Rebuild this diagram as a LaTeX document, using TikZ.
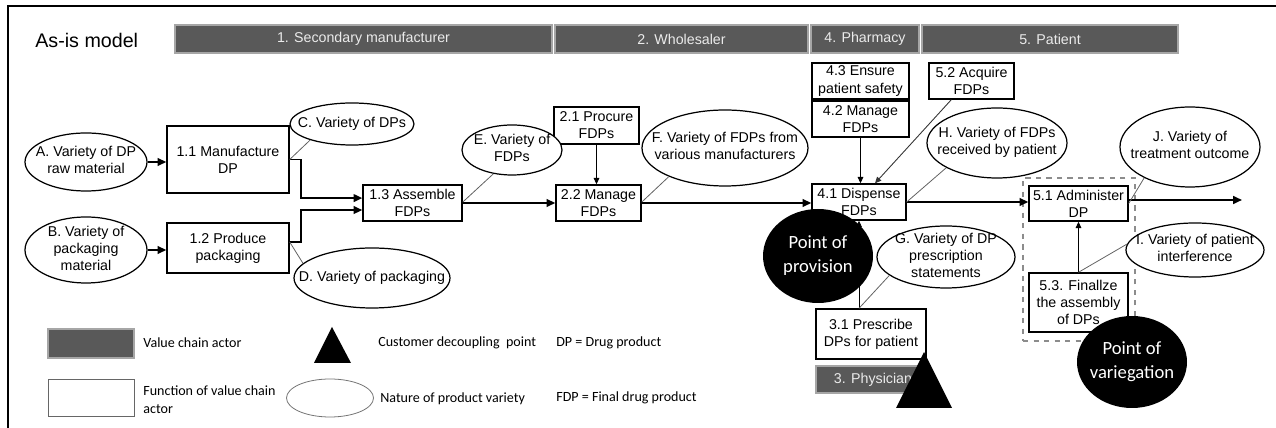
\documentclass[tikz,border=0pt]{standalone}
\usepackage{fontspec}
\setmainfont{Liberation Sans}
\newfontfamily\legendfont{Carlito}
\usetikzlibrary{shapes.geometric,arrows.meta,calc}
\newdimen\px \px=0.02cm
\newcommand\fs{\fontsize{8.1}{9.7}\selectfont}
% centred lines that leave the ellipse size to minimum width/height
\newcommand\ctext[1]{\makebox[0pt]{\smash{\raisebox{-0.24em}{\begin{tabular}{@{}c@{}}#1\end{tabular}}}}}

\begin{document}
\begin{tikzpicture}[x=0.02cm,y=-0.02cm,
  sz/.style 2 args={minimum width=#1*\px, minimum height=#2*\px},
  fn/.style={draw, line width=0.8pt, fill=white, align=center, inner sep=0pt, font=\fs},
  actor/.style={draw=black!35, line width=0.6pt, fill=black!65, text=white!92!black,
                inner sep=0pt, font=\fs},
  var/.style={ellipse, draw, line width=0.7pt, fill=white, inner sep=0pt, font=\fs},
  point/.style={ellipse, fill=black, text=white, inner sep=0pt,
                font=\legendfont\fontsize{10.6}{13.4}\selectfont},
  flow/.style={line width=1.1pt, -{Triangle[length=5pt,width=4.4pt]}},
  feed/.style={line width=0.5pt, -{Triangle[length=3.6pt,width=3.2pt]}},
  note/.style={line width=0.45pt, draw=black!62},
  legend/.style={anchor=west, inner sep=0pt, font=\legendfont\fontsize{8}{10}\selectfont, align=left},
]
\useasboundingbox (0,0) rectangle (1276,428);

% frame
\draw[line width=1.4pt] (8,428) -- (8,6) -- (1276,6);

% title and value chain actors
\node[anchor=west, inner sep=0pt, font=\fontsize{11.2}{13}\selectfont] (title) at (35,40) {As-is model};
\node[actor, sz={377}{28}] (h1) at (363.5,39) {1. Secondary manufacturer};
\node[actor, sz={253}{28}] (h2) at (681.5,39) {2. Wholesaler};
\node[actor, sz={108}{28}] (h4) at (865,39) {4. Pharmacy};
\node[actor, sz={256}{28}] (h5) at (1050,39) {5. Patient};

% grouping of the patient's own assembly
\node[draw=black!45, dashed, line width=0.7pt, sz={112}{163}] (grp) at (1079,259.5) {};

% functions
\node[fn, sz={122}{67}] (b11) at (228,159.5) {1.1 Manufacture\\DP};
\node[fn, sz={122}{50}] (b12) at (228,248) {1.2 Produce\\packaging};
\node[fn, sz={99}{36}]  (b13) at (412.5,203) {1.3 Assemble\\FDPs};
\node[fn, sz={85}{37}]  (b21) at (596.5,125.5) {2.1 Procure\\FDPs};
\node[fn, sz={85}{36}]  (b22) at (598.5,203) {2.2 Manage\\FDPs};
\node[fn, sz={97}{36}]  (b43) at (860.5,81) {4.3 Ensure\\patient safety};
\node[fn, sz={97}{36}]  (b42) at (860.5,119) {4.2 Manage\\FDPs};
\node[fn, sz={94}{36}]  (b41) at (859,202) {4.1 Dispense\\FDPs};
\node[fn, sz={85}{36}]  (b52) at (971.5,81) {5.2 Acquire\\FDPs};
\node[fn, sz={99}{35}]  (b51) at (1078.5,203.5) {5.1 Administer\\DP};
\node[fn, sz={99}{59}]  (b53) at (1078.5,302.5) {5.3. Finallze\\the assembly\\of DPs};
\node[fn, sz={110}{50}] (b31) at (871,334) {3.1 Prescribe\\DPs for patient};

% nature of product variety
\node[var, sz={122}{58}]  (eA) at (86,162) {\ctext{A. Variety of DP\\raw material}};
\node[var, sz={122}{66}]  (eB) at (86,250) {\ctext{B. Variety of\\packaging\\material}};
\node[var, sz={124}{42}]  (eC) at (352,124) {\ctext{C. Variety of DPs}};
\node[var, sz={156}{60}]  (eD) at (372,278) {\ctext{D. Variety of packaging}};
\node[var, sz={100}{50}]  (eE) at (512,150) {\ctext{E. Variety of\\FDPs}};
\node[var, sz={166}{76}]  (eF) at (725,148) {\ctext{F. Variety of FDPs from\\various manufacturers}};
\node[var, sz={140}{70}]  (eH) at (997,143) {\ctext{H. Variety of FDPs\\received by patient}};
\node[var, sz={140}{80}]  (eJ) at (1190,147) {\ctext{J. Variety of\\treatment outcome}};
\node[var, sz={138}{62}]  (eG) at (946,257) {\ctext{G. Variety of DP\\prescription\\statements}};
\node[var, sz={138}{54}]  (eI) at (1195,250) {\ctext{I. Variety of patient\\interference}};

% material and product flow
\draw[flow] (eA.east) -- (eA.east -| b11.west);
\draw[flow] (eB.east) -- (eB.east -| b12.west);
\draw[flow] (b11.east) -- ++(11,0) |- ([yshift=2.8pt]b13.west);
\draw[flow] ([yshift=3.4pt]b12.east) -- ++(11,0) |- ([yshift=-4pt]b13.west);
\draw[flow] (b13.east) -- (b22.west);
\draw[flow] (b22.east) -- (b22.east -| b41.west);
\draw[flow] (b41.east) -- (b41.east -| b51.west);
\coordinate (out) at (1242,200);
\draw[flow] (b51.east |- out) -- (out);

% supporting functions
\draw[feed] (b21.south) -- (b21.south |- b22.north);
\draw[feed] (b42.south) -- (b42.south |- b41.north);
\draw[feed, draw=black!80] ([xshift=23*\px]b52.south west) -- ([xshift=16*\px]b41.north);
\draw[feed] (b53.north) -- (b51.south);
\draw[feed] (b41.south |- b31.north) -- (b41.south);

% variety annotations
\draw[note] (b11.east) -- (eC.201);
\draw[note] ([yshift=3.4pt]b12.east) -- (eD.168);
\draw[note] ([yshift=0.5pt]b13.east) -- (eE.232);
\draw[note] ([yshift=0.5pt]b22.east) -- (eF.207);
\draw[note] (b41.east) -- (eH.206);
\draw[note] (b41.south |- b31.north) -- (eG.198);
\draw[note] (b51.east) -- (eJ.214);
\draw[note] (b53.north) -- (eI.175);

% physician, decoupling point and the two points
\node[actor, sz={114}{27}] (h3) at (873,379.5) {3. Physician};
\fill (924,352) -- (952,408) -- (896,408) -- cycle;
\node[point, sz={110}{94}] (pp) at (818,256) {\ctext{Point of\\provision}};
\node[point, sz={110}{92}] (pv) at (1132,362) {\ctext{Point of\\variegation}};

% legend
\node[actor, sz={86}{29}] (lgA) at (91,343.5) {};
\node[legend] (lgAt) at (143,343) {Value chain actor};
\node[draw=black!60, line width=0.5pt, fill=white, sz={86}{37}] (lgF) at (91,397.5) {};
\node[legend] (lgFt) at (143,399.5) {Function of value chain\\actor};
\fill (332,327) -- (351,363) -- (314,363) -- cycle;
\node[legend] (lgTt) at (378,343) {Customer decoupling\ \ point};
\node[ellipse, draw=black!55, line width=0.45pt, sz={87}{38}] (lgE) at (330,398) {};
\node[legend] (lgEt) at (380,399) {Nature of product variety};
\node[legend] (lgDP) at (556,343) {DP = Drug product};
\node[legend] (lgFDP) at (556,398) {FDP = Final drug product};
\end{tikzpicture}
\end{document}
